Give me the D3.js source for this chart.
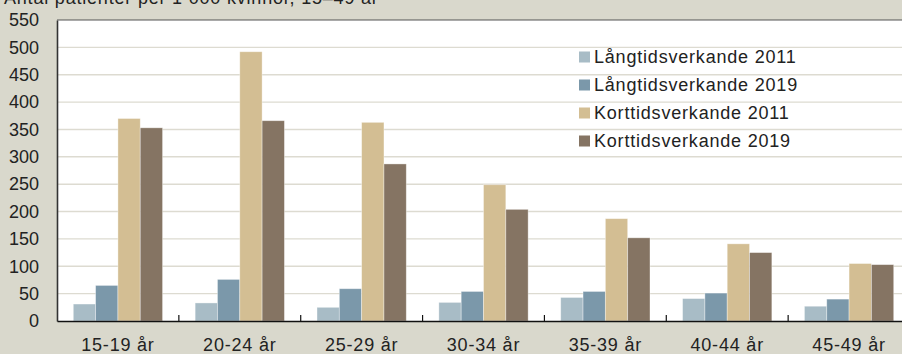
<!DOCTYPE html>
<html>
<head>
<meta charset="utf-8">
<script src="https://cdn.jsdelivr.net/npm/d3@7"></script>
<style>
  body { margin: 0; background: #d9d8cc; }
  svg { display: block; overflow: hidden; font-family: "Liberation Sans", Arial, sans-serif; }
</style>
</head>
<body>
<div id="chart"></div>
<script>
// chart data
var ageGroups = ["15-19 år", "20-24 år", "25-29 år", "30-34 år", "35-39 år", "40-44 år", "45-49 år"];
var seriesNames = ["Långtidsverkande 2011", "Långtidsverkande 2019", "Korttidsverkande 2011", "Korttidsverkande 2019"];
var lang2011 = [31, 33, 25, 34, 43, 41, 27];
var lang2019 = [65, 76, 59, 54, 54, 51, 40];
var kort2011 = [370, 492, 363, 249, 187, 141, 105];
var kort2019 = [353, 366, 287, 204, 152, 125, 103];
var yTicks = [0, 50, 100, 150, 200, 250, 300, 350, 400, 450, 500, 550];
var titleText = "Antal patienter per 1 000 kvinnor, 15–49 år";

var colors = ["#a8bcc6", "#7b98aa", "#d3be93", "#857463"];
var allSeries = [lang2011, lang2019, kort2011, kort2019];

var svgWidth = 902;
var svgHeight = 354;
var margin = { top: 20, left: 57, bottom: 33 };
var plotRight = 910; // plot runs past the right edge of the picture
var height = svgHeight - margin.top - margin.bottom;

var svg = d3.select("#chart")
    .append("svg")
    .attr("width", svgWidth)
    .attr("height", svgHeight);

svg.append("rect")
    .attr("width", svgWidth)
    .attr("height", svgHeight)
    .attr("fill", "#d9d8cc");

// title, mostly cut off at the top
svg.append("text")
    .attr("x", 4)
    .attr("y", 4)
    .attr("font-size", 18)
    .attr("fill", "#222")
    .style("letter-spacing", "0.8px")
    .text(titleText);

var x0 = d3.scaleBand()
    .domain(ageGroups)
    .range([margin.left, plotRight]);

var x1 = d3.scaleBand()
    .domain(d3.range(seriesNames.length))
    .range([0, x0.bandwidth()])
    .paddingOuter(0.73)
    .paddingInner(0);

var y = d3.scaleLinear()
    .domain([0, 550])
    .range([margin.top + height, margin.top]);

// plot area
svg.append("rect")
    .attr("x", margin.left)
    .attr("y", margin.top)
    .attr("width", plotRight - margin.left)
    .attr("height", height)
    .attr("fill", "#ffffff");

// gridlines
svg.append("g")
    .selectAll("line")
    .data(yTicks.filter(d => d > 0 && d < 550))
    .enter()
    .append("line")
    .attr("x1", margin.left)
    .attr("x2", plotRight)
    .attr("y1", d => y(d))
    .attr("y2", d => y(d))
    .attr("stroke", "#dddbd1")
    .attr("stroke-width", 1.4);

// top border
svg.append("line")
    .attr("x1", margin.left)
    .attr("x2", plotRight)
    .attr("y1", y(550))
    .attr("y2", y(550))
    .attr("stroke", "#555")
    .attr("stroke-width", 1.2);

// bars
var groups = svg.append("g")
    .selectAll("g")
    .data(ageGroups)
    .enter()
    .append("g")
    .attr("transform", d => `translate(${x0(d)},0)`);

groups.selectAll("rect")
    .data((d, i) => allSeries.map((s, j) => ({ series: j, value: s[i] })))
    .enter()
    .append("rect")
    .attr("x", d => x1(d.series))
    .attr("width", x1.bandwidth())
    .attr("y", d => y(d.value))
    .attr("height", d => y(0) - y(d.value))
    .attr("fill", d => colors[d.series])
    .attr("stroke", "rgba(255,255,255,0.45)")
    .attr("stroke-width", 0.8);

// y axis
var leftAxis = d3.axisLeft(y)
    .tickValues(yTicks)
    .tickSize(0)
    .tickPadding(18);

var yAxis = svg.append("g")
    .attr("transform", `translate(${margin.left},0)`)
    .call(leftAxis);
yAxis.select(".domain")
    .attr("stroke", "#333")
    .attr("stroke-width", 1.6);
yAxis.selectAll("text")
    .attr("font-size", 18)
    .attr("fill", "#222")
    .style("font-family", "Liberation Sans, Arial, sans-serif");

// x axis
var bottomAxis = d3.axisBottom(x0)
    .tickSize(0)
    .tickPadding(17);

var xAxis = svg.append("g")
    .attr("transform", `translate(0,${y(0)})`)
    .call(bottomAxis);
xAxis.select(".domain")
    .attr("stroke", "#111")
    .attr("stroke-width", 1.6);
xAxis.selectAll("text")
    .attr("font-size", 18)
    .attr("fill", "#222")
    .style("letter-spacing", "0.8px")
    .style("font-family", "Liberation Sans, Arial, sans-serif");

// small ticks between the groups, pointing up
svg.append("g")
    .selectAll("line")
    .data(ageGroups.slice(1))
    .enter()
    .append("line")
    .attr("x1", d => x0(d))
    .attr("x2", d => x0(d))
    .attr("y1", y(0))
    .attr("y2", y(0) - 6)
    .attr("stroke", "#111")
    .attr("stroke-width", 1.2);

// legend
var legend = svg.append("g")
    .attr("transform", "translate(579,57)");

var legendRows = legend.selectAll("g")
    .data(seriesNames)
    .enter()
    .append("g")
    .attr("transform", (d, i) => `translate(0,${i * 28})`);

legendRows.append("rect")
    .attr("x", 0)
    .attr("y", -5.5)
    .attr("width", 11)
    .attr("height", 11)
    .attr("fill", (d, i) => colors[i]);

legendRows.append("text")
    .attr("x", 15)
    .attr("y", 0)
    .attr("dy", "0.35em")
    .attr("font-size", 18)
    .attr("fill", "#222")
    .style("letter-spacing", "0.8px")
    .text(d => d);
</script>
</body>
</html>
